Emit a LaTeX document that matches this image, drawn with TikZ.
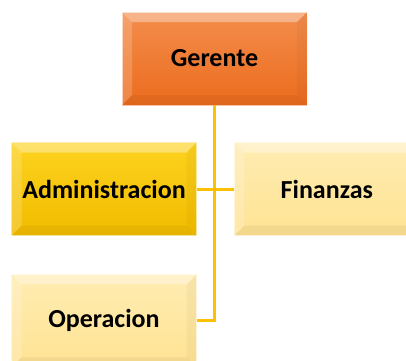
\documentclass[tikz,border=0pt]{standalone}
\usepackage{fontspec}
\setmainfont{Carlito}
\usepackage{xcolor}
\usepackage{tikz}
\usetikzlibrary{positioning}
\definecolor{bossorange}{HTML}{EC6C1E}
\definecolor{bossorangetop}{HTML}{F38D4C}
\definecolor{admgold}{HTML}{F2BC00}
\definecolor{admgoldtop}{HTML}{FCD21E}
\definecolor{paleyellow}{HTML}{FFE393}
\definecolor{paleyellowtop}{HTML}{FFECB2}
\definecolor{linkgold}{HTML}{FFC000}

\begin{document}
\begin{tikzpicture}[
  x=1pt, y=-1pt,
  node distance=38pt and 37pt,
  unit/.style={minimum width=185pt, minimum height=93pt, inner sep=0pt,
    font=\fontsize{26}{30}\selectfont\bfseries, text=black,
    draw=white, draw opacity=.6, line width=.8pt,
    path picture={
      \fill[white, opacity=.35] (path picture bounding box.north west) -- (path picture bounding box.north east)
        -- ([shift={(-10pt,-10pt)}]path picture bounding box.north east) -- ([shift={(10pt,-10pt)}]path picture bounding box.north west) -- cycle;
      \fill[white, opacity=.18] (path picture bounding box.north west) -- ([shift={(10pt,-10pt)}]path picture bounding box.north west)
        -- ([shift={(10pt,10pt)}]path picture bounding box.south west) -- (path picture bounding box.south west) -- cycle;
      \fill[black, opacity=.03] (path picture bounding box.north east) -- ([shift={(-10pt,-10pt)}]path picture bounding box.north east)
        -- ([shift={(-10pt,10pt)}]path picture bounding box.south east) -- (path picture bounding box.south east) -- cycle;
      \fill[black, opacity=.05] (path picture bounding box.south west) -- ([shift={(10pt,10pt)}]path picture bounding box.south west)
        -- ([shift={(-10pt,10pt)}]path picture bounding box.south east) -- (path picture bounding box.south east) -- cycle;
    }},
  boss/.style={unit, top color=bossorangetop, bottom color=bossorange},
  area/.style={unit, top color=admgoldtop, bottom color=admgold},
  pale/.style={unit, top color=paleyellowtop, bottom color=paleyellow},
  link/.style={draw=linkgold, line width=3pt}
]
\useasboundingbox (0,0) rectangle (406,360);
\clip (0,0) rectangle (406,360);
\node[boss] (ger) at (214.5,58.5) {Gerente};
\node[area] (adm) at (104,189) {Administracion};
\node[pale, right=of adm] (fin) {Finanzas};
\node[pale, below=of adm] (ope) {Operacion};
\draw[link] (adm) -- (fin);
\draw[link] (ger) |- (ope);
\end{tikzpicture}
\end{document}
